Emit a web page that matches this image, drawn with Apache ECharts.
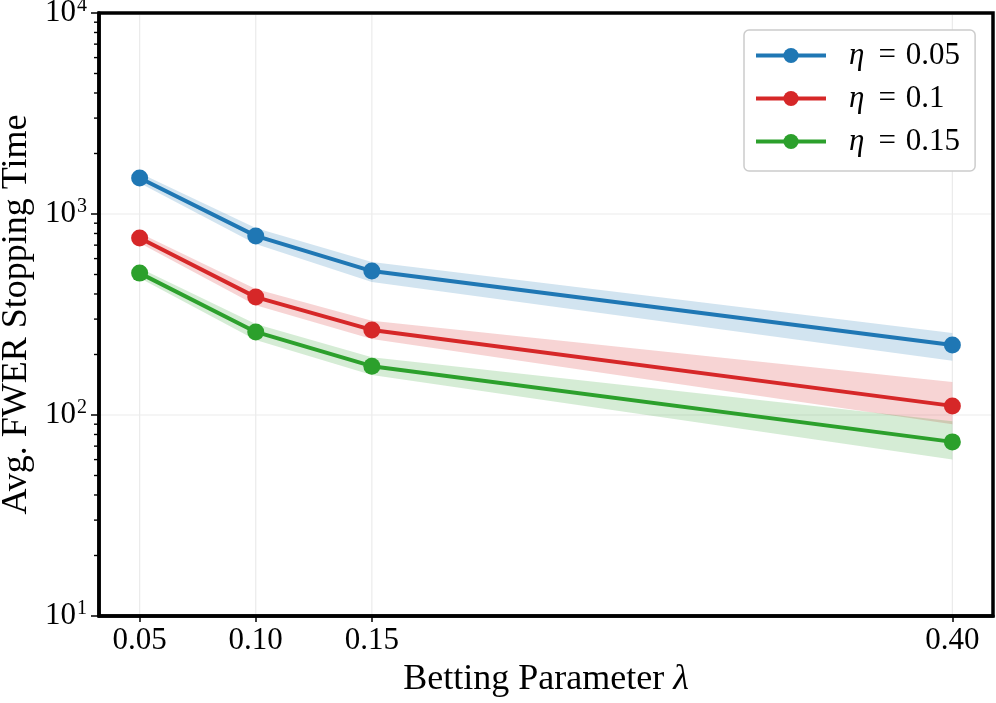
<!DOCTYPE html>
<html><head><meta charset="utf-8">
<script src="https://cdn.jsdelivr.net/npm/echarts@6/dist/echarts.min.js"></script>
<style>html,body{margin:0;padding:0;background:#fff}#c{width:996px;height:703px}</style>
</head><body><div id="c"></div>
<script>
const lambdas = [0.05, 0.10, 0.15, 0.40];
const xTicks = [0.05, 0.10, 0.15, 0.40];
const yGridValues = [100, 1000];
const names = ['η = 0.05', 'η = 0.1', 'η = 0.15'];
const legendValues = ['0.05', '0.1', '0.15'];
const colors = ['#1f77b4', '#d62728', '#2ca02c'];
const meanEta005 = [1510, 778, 520, 223];
const meanEta01  = [760, 386, 265, 111];
const meanEta015 = [508, 259, 175, 73.5];
const upEta005 = [1600, 851, 577, 256];
const loEta005 = [1425, 709, 459, 186];
const upEta01  = [804, 424, 294, 146];
const loEta01  = [717, 352, 239, 90];
const upEta015 = [538, 284, 194, 93];
const loEta015 = [481, 236, 158, 60];

const means = [meanEta005, meanEta01, meanEta015];
const ups = [upEta005, upEta01, upEta015];
const los = [loEta005, loEta01, loEta015];

const xMin = 0.0325, xMax = 0.4175;
const font = '"Liberation Serif", "DejaVu Serif", serif';

const series = [];
// grid lines and minor log ticks
series.push({
  type: 'custom', silent: true, z: 0, clip: false,
  data: [[lambdas[0], 100]],
  renderItem: function (params, api) {
    const cs = params.coordSys;
    const children = [];
    xTicks.forEach(function (v) {
      const p = api.coord([v, 100]);
      children.push({type: 'line', shape: {x1: p[0], y1: cs.y + 2, x2: p[0], y2: cs.y + cs.height - 2},
        style: {stroke: '#ebebeb', lineWidth: 1.2}});
    });
    yGridValues.forEach(function (v) {
      const p = api.coord([0.1, v]);
      children.push({type: 'line', shape: {x1: cs.x + 2, y1: p[1], x2: cs.x + cs.width - 2, y2: p[1]},
        style: {stroke: '#ebebeb', lineWidth: 1.2}});
    });
    [10, 100, 1000].forEach(function (d) {
      for (let k = 2; k <= 9; k++) {
        const p = api.coord([0.1, d * k]);
        children.push({type: 'line', shape: {x1: cs.x - 5, y1: p[1], x2: cs.x, y2: p[1]},
          style: {stroke: '#000', lineWidth: 1.4}});
      }
    });
    return {type: 'group', children: children};
  }
});
// bands
for (let s = 0; s < 3; s++) {
  const up = ups[s], lo = los[s];
  series.push({
    type: 'custom', silent: true, z: 1,
    data: [[lambdas[0], up[0]]],
    renderItem: function (params, api) {
      const pts = [];
      for (let i = 0; i < lambdas.length; i++) pts.push(api.coord([lambdas[i], up[i]]));
      for (let i = lambdas.length - 1; i >= 0; i--) pts.push(api.coord([lambdas[i], lo[i]]));
      return {type: 'polygon', shape: {points: pts}, style: {fill: colors[s], opacity: 0.2}};
    }
  });
}
// lines
for (let s = 0; s < 3; s++) {
  series.push({
    type: 'line', name: names[s], z: 5,
    data: lambdas.map(function (x, i) { return [x, means[s][i]]; }),
    symbol: 'circle', symbolSize: 17,
    itemStyle: {color: colors[s]},
    lineStyle: {color: colors[s], width: 4},
    emphasis: {disabled: true}
  });
}

const chart = echarts.init(document.getElementById('c'));
chart.setOption({
  animation: false,
  backgroundColor: '#fff',
  grid: {left: 99, right: 3, top: 13, bottom: 87, show: true, borderColor: '#000', borderWidth: 3.5,
    containLabel: false, outerBoundsMode: 'none'},
  legend: {
    data: names, orient: 'vertical', left: 744, top: 30,
    backgroundColor: '#fff', borderColor: '#cccccc', borderWidth: 1.5, borderRadius: 5,
    padding: [10, 15, 14, 10],
    itemWidth: 70, itemHeight: 19, itemGap: 12,
    lineStyle: {width: 4},
    formatter: function (n) { return '{i|η}{e|=}{t|' + legendValues[names.indexOf(n)] + '}'; },
    textStyle: {
      rich: {
        i: {fontFamily: font, fontStyle: 'italic', fontSize: 31, color: '#000', padding: [0, 0, 0, 18]},
        e: {fontFamily: font, fontSize: 31, color: '#000', padding: [0, 10, 0, 14]},
        t: {fontFamily: font, fontSize: 31, color: '#000'}
      }
    }
  },
  xAxis: {
    type: 'value', min: xMin, max: xMax,
    name: '{n|Betting Parameter }{i|λ}', nameLocation: 'middle', nameGap: 46,
    nameTextStyle: {rich: {
      n: {fontFamily: font, fontSize: 36, color: '#000'},
      i: {fontFamily: font, fontSize: 36, fontStyle: 'italic', color: '#000'}
    }},
    axisLine: {show: true, lineStyle: {color: '#000', width: 3.5}},
    axisTick: {show: true, customValues: xTicks, length: 6, lineStyle: {color: '#000', width: 1.5}},
    axisLabel: {customValues: xTicks, formatter: function (v) { return v.toFixed(2); },
      fontFamily: font, fontSize: 31, color: '#000', margin: 9},
    splitLine: {show: false}
  },
  yAxis: {
    type: 'log', logBase: 10, min: 10, max: 10000,
    name: 'Avg. FWER Stopping Time', nameLocation: 'middle', nameGap: 64,
    nameTextStyle: {fontFamily: font, fontSize: 36, color: '#000'},
    axisLine: {show: true, lineStyle: {color: '#000', width: 3.5}},
    axisTick: {show: true, length: 8, lineStyle: {color: '#000', width: 1.5}},
    axisLabel: {
      fontFamily: font, color: '#000', margin: 12,
      formatter: function (v) { return '{b|10}{s|' + Math.round(Math.log10(v)) + '}'; },
      rich: {
        b: {fontFamily: font, fontSize: 31, color: '#000'},
        s: {fontFamily: font, fontSize: 20, color: '#000', padding: [0, 0, 15, 1]}
      }
    },
    splitLine: {show: false}
  },
  series: series
});
</script></body></html>
